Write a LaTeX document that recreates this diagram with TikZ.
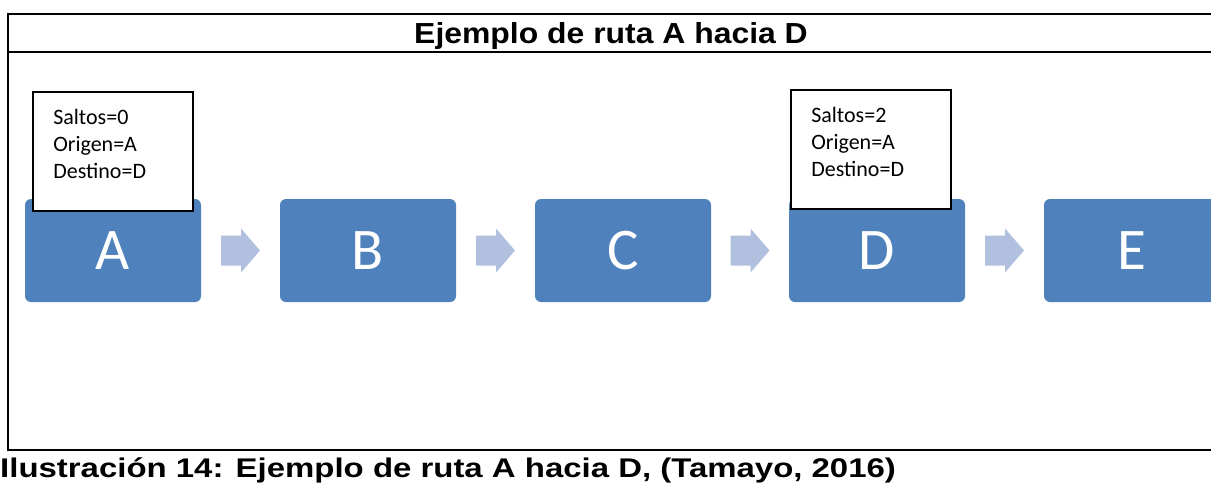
\documentclass[tikz,border=0pt]{standalone}
\usepackage{fontspec}
\setmainfont{Liberation Sans}
\newfontfamily\calibri{Carlito}
\usetikzlibrary{calc}
\definecolor{cajaazul}{RGB}{79, 129, 189}
\definecolor{flechaazul}{RGB}{176, 192, 222}

\begin{document}
\begin{tikzpicture}[
        x=1pt, y=1pt,
        marco/.style={line width=2.2pt},
        paso/.style={
            fill=cajaazul,
            rounded corners=6pt,
            minimum width=176pt,
            minimum height=103pt,
            inner sep=0pt,
            text=white,
            font=\calibri\fontsize{59}{59}\selectfont
        },
        flecha/.style={fill=flechaazul},
        infobox/.style={
            draw,
            line width=1.8pt,
            fill=white,
            minimum width=160pt,
            minimum height=119pt,
            inner sep=0pt
        },
        infotexto/.style={
            align=left,
            inner sep=0pt,
            font=\calibri\fontsize{22}{27}\selectfont
        }
    ]
    \useasboundingbox (0,0) rectangle (1211,-483);

    % marco y titulo
    \draw[marco] (1215,-14) -- (8,-14) -- (8,-450) -- (1215,-450);
    \draw[marco] (8,-52) -- (1215,-52);
    \node[anchor=base, font=\bfseries\fontsize{29}{29}\selectfont] (titulo) at (611,-43)
        {\scalebox{1.1}[1]{Ejemplo de ruta A hacia D}};

    % nodos de la ruta
    \node[paso] (a) at (113,-250.5) {A};
    \node[paso] (b) at (368,-250.5) {B};
    \node[paso] (c) at (623,-250.5) {C};
    \node[paso] (d) at (877,-250.5) {D};
    \node[paso] (e) at (1132,-250.5) {E};

    % flechas entre nodos
    \foreach \u/\v in {a/b, b/c, c/d, d/e} {
        \coordinate (m\u) at ($(\u.east)!0.5!(\v.west)$);
        \fill[flecha] ([shift={(-19.5,-15)}]m\u) -- ([shift={(0.5,-15)}]m\u)
            -- ([shift={(0.5,-22)}]m\u) -- ([shift={(19.5,0)}]m\u)
            -- ([shift={(0.5,22)}]m\u) -- ([shift={(0.5,15)}]m\u)
            -- ([shift={(-19.5,15)}]m\u) -- cycle;
    }

    % cuadros de informacion
    \node[infobox, anchor=south] (ia) at ([yshift=-13]a.north) {};
    \node[infotexto, anchor=north west] (ta) at ([shift={(21,-18)}]ia.north west)
        {Saltos=0\\Origen=A\\Destino=D};
    \node[infobox, anchor=south] (id) at ([shift={(-6,-11)}]d.north) {};
    \node[infotexto, anchor=north west] (td) at ([shift={(21,-18)}]id.north west)
        {Saltos=2\\Origen=A\\Destino=D};

    % leyenda
    \node[anchor=base west, inner sep=0pt, font=\bfseries\fontsize{27}{27}\selectfont] (leyenda)
        at (0,-477) {\scalebox{1.22}[1]{Ilustración 14: Ejemplo de ruta A hacia D, (Tamayo, 2016)}};
\end{tikzpicture}
\end{document}
